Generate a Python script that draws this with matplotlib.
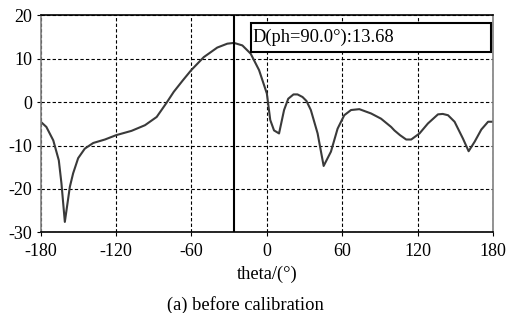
import numpy as np
import matplotlib.pyplot as plt
from matplotlib.patches import Rectangle

plt.rcParams['font.family'] = ['Liberation Serif', 'DejaVu Serif']
plt.rcParams['axes.unicode_minus'] = False

theta = [-180, -175.5, -170, -165.6, -163.5, -160.8, -156.8, -154.2, -150.2, -144.9,
         -138.2, -128.9, -120, -107.7, -97, -87.7, -80, -74.1, -67, -60.2, -50.2,
         -39.5, -31.5, -26.2, -19.5, -12.9, -6.2, 0, 2.7, 5.7, 9.7, 13.7, 17, 21.2,
         24.4, 28.4, 31.5, 35, 40.4, 45.2, 51, 56.3, 61.6, 67, 73.6, 83, 90.9, 98.9,
         101.5, 106, 110.9, 114.9, 121.5, 128.2, 136.2, 140, 144.2, 149.4, 156.1,
         160.6, 165.4, 170.7, 176.1, 180]
gain = [-4.5, -5.7, -8.8, -13.4, -18.7, -27.6, -19.5, -16.4, -12.9, -10.7,
        -9.4, -8.6, -7.6, -6.6, -5.3, -3.4, -0.2, 2.4, 5.0, 7.4, 10.4,
        12.6, 13.5, 13.68, 13.1, 11.2, 7.4, 2.0, -4.1, -6.5, -7.2, -1.8, 0.8, 1.8,
        1.8, 1.2, 0.3, -1.8, -7.2, -14.7, -11.4, -6.1, -3.0, -1.8, -1.6, -2.6, -3.8, -5.7,
        -6.5, -7.6, -8.6, -8.6, -7.2, -4.9, -2.8, -2.7, -3.0, -4.5, -8.4,
        -11.3, -9.1, -6.3, -4.5, -4.5]
peak_theta = -26.2
peak_label = 'D(ph=90.0°):13.68'
xticks = [-180, -120, -60, 0, 60, 120, 180]
yticks = [-30, -20, -10, 0, 10, 20]

fig = plt.figure(figsize=(5.07, 3.13), dpi=100)
ax = fig.add_axes([0.0803, 0.2578, 0.8921, 0.6927])

ax.plot(theta, gain, color='#3a3a3a', lw=1.5, solid_joinstyle='round')
ax.axvline(peak_theta, color='black', lw=1.5)

ax.set_xlim(-180, 180)
ax.set_ylim(-30, 20)
ax.set_xticks(xticks)
ax.set_yticks(yticks)
ax.grid(True, color='black', ls=(0, (3, 2)), lw=0.8)
ax.tick_params(labelsize=13, length=3, width=0.8)
ax.tick_params(axis='x', pad=5)
ax.tick_params(axis='y', pad=3)

for s in ['top', 'bottom']:
    ax.spines[s].set_color('black')
    ax.spines[s].set_linewidth(1.2)
for s in ['left', 'right']:
    ax.spines[s].set_color('#808080')
    ax.spines[s].set_linewidth(1.2)

ax.add_patch(Rectangle((0.465, 0.832), 0.53, 0.133, transform=ax.transAxes,
                       fill=True, facecolor='white', edgecolor='black', lw=1.5, zorder=5))
ax.text(0.468, 0.898, peak_label, transform=ax.transAxes, fontsize=13.3,
        va='center', ha='left', zorder=6)

ax.set_xlabel('theta/(°)', fontsize=13.3, labelpad=4)
fig.text(0.484, 0.025, '(a) before calibration', fontsize=13.3, ha='center', va='center')

fig.savefig('out.png', dpi=100)
